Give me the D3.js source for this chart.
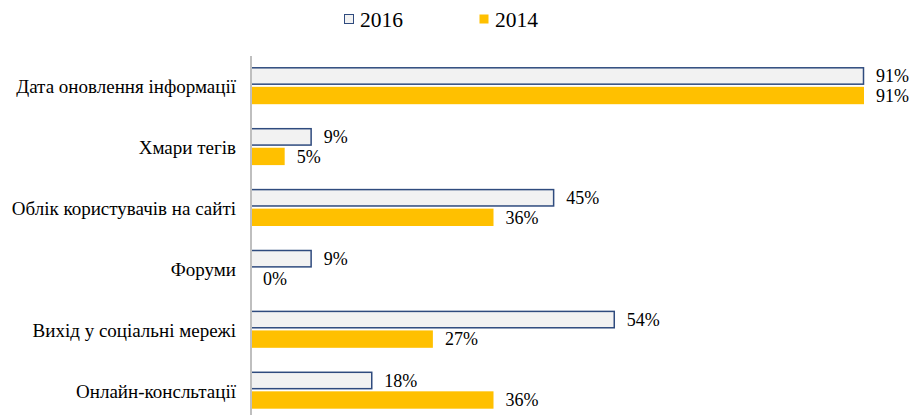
<!DOCTYPE html>
<html><head><meta charset="utf-8">
<script src="https://cdn.jsdelivr.net/npm/d3@7"></script>
<style>body{margin:0;background:#fff}svg{display:block}</style>
</head><body>
<svg id="c" width="914" height="415"></svg>
<script>
const categories = ["Дата оновлення інформації","Хмари тегів","Облік користувачів на сайті","Форуми","Вихід у соціальні мережі","Онлайн-консльтації"];
const series = ["2016","2014"];
const values2016 = [91, 9, 45, 9, 54, 18];
const values2014 = [91, 5, 36, 0, 27, 36];
const seriesValues = [values2016, values2014];
const fills = ["#f2f2f2", "#ffc000"];
const strokes = ["#2f4b7e", "none"];

const FONT = '"Liberation Serif"';
const svg = d3.select("#c");
const x0 = 251;
const x = d3.scaleLinear().domain([0, 91]).range([x0, 864]);
const y = d3.scaleBand().domain(categories).range([56, 56 + 6 * 60.9]);
const inner = d3.scaleBand().domain(series).range([11.3, 48.2]).paddingInner(0.11);

categories.forEach((c, i) => {
  series.forEach((s, j) => {
    const v = seriesValues[j][i];
    const yy = y(c) + inner(s);
    const h = inner.bandwidth();
    if (v > 0) {
      svg.append("rect")
        .attr("x", x(0)).attr("y", j === 0 ? yy + 0.5 : yy)
        .attr("width", x(v) - x(0) - (j === 0 ? 0.5 : 0))
        .attr("height", j === 0 ? h - 1 : h)
        .attr("fill", fills[j])
        .attr("stroke", strokes[j]).attr("stroke-width", j === 0 ? 1.5 : 0);
    }
    svg.append("text")
      .attr("x", x(v) + 12).attr("y", yy + h / 2)
      .attr("dy", "0.35em")
      .style("font-family", FONT).style("font-size", "18px").attr("fill", "#000")
      .text(v + "%");
  });
  svg.append("text")
    .attr("x", 236).attr("y", y(c) + y.bandwidth() / 2)
    .attr("dy", "0.35em").attr("text-anchor", "end")
    .style("font-family", FONT).style("font-size", "19px").attr("fill", "#000")
    .text(c);
});

// axis line
svg.append("line").attr("x1", x0).attr("x2", x0).attr("y1", 56).attr("y2", 415)
  .attr("stroke", "#bfbfbf").attr("stroke-width", 2);

// legend
const legX = [344, 479];
series.forEach((s, j) => {
  svg.append("rect").attr("x", legX[j] + 0.5).attr("y", 14.5).attr("width", 9).attr("height", 9)
    .attr("fill", fills[j]).attr("stroke", j === 0 ? strokes[0] : "none").attr("stroke-width", 1);
  svg.append("text").attr("x", legX[j] + 16).attr("y", 27)
    .style("font-family", FONT).style("font-size", "21.5px").attr("fill", "#000").text(s);
});
</script>
</body></html>
